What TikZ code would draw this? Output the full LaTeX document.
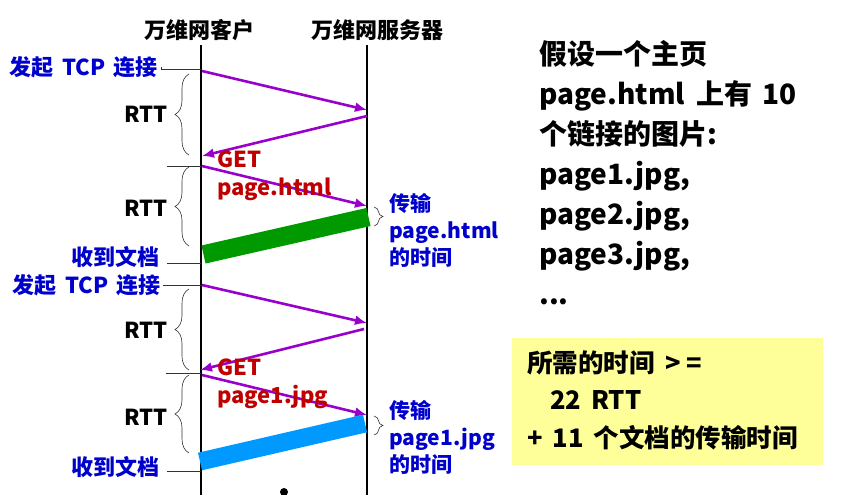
\documentclass[tikz,border=0pt]{standalone}
\usepackage{fontspec}
\setmainfont{Noto Sans CJK SC}[WordSpace=1.7]
\usetikzlibrary{arrows.meta,decorations.pathreplacing}
\definecolor{msgpurple}{HTML}{9900CC}
\definecolor{lblblue}{HTML}{0000CC}
\definecolor{reqred}{HTML}{C00000}
\definecolor{barblue}{HTML}{0099FF}
\definecolor{bargreen}{HTML}{009900}
\definecolor{notebg}{HTML}{FFFF99}
\tikzset{
  lifeline/.style={line width=1.8pt,black},
  msg/.style={line width=2.6pt,msgpurple,-{Latex[length=12pt,width=10pt]}},
  leader/.style={line width=0.8pt,black!80},
  rttbrace/.style={line width=0.6pt,black!80,decorate,decoration={brace,amplitude=14pt}},
  xferbrace/.style={line width=0.6pt,black!80,decorate,decoration={brace,amplitude=9pt}},
  head/.style={font=\fontsize{22}{26}\selectfont\bfseries,inner sep=0pt},
  evlabel/.style={font=\fontsize{22}{26}\selectfont\bfseries,text=lblblue,inner sep=0pt,anchor=east},
  rttlabel/.style={font=\fontsize{22}{26}\selectfont\bfseries,inner sep=0pt,anchor=east},
  reqlabel/.style={font=\fontsize{22}{28}\selectfont\bfseries,text=reqred,inner sep=0pt,anchor=west,align=left},
  xferlabel/.style={font=\fontsize{21}{27}\selectfont\bfseries,text=lblblue,inner sep=0pt,anchor=west,align=left},
}
\begin{document}
\begin{tikzpicture}[x=1pt,y=-1pt]
\useasboundingbox (0,0) rectangle (847,495);

% column headings and lifelines
\node[head] (client) at (199,30) {万维网客户};
\node[head] (server) at (377,30) {万维网服务器};
\coordinate (ctop) at (201,45);
\coordinate (cbot) at (201,495);
\coordinate (stop) at (367,45);
\coordinate (sbot) at (367,495);
\draw[lifeline] (ctop) -- (cbot);
\draw[lifeline] (stop) -- (sbot);

% first page: TCP handshake and request for page.html
\coordinate (c1) at (202,71);  \coordinate (s1) at (367,110);
\coordinate (s2) at (367,116); \coordinate (c2) at (202,156);
\coordinate (c3) at (202,166); \coordinate (s3) at (367,206);
\draw[msg] (c1) -- (s1);
\draw[msg] (s2) -- (c2);
\draw[msg] (c3) -- (s3);
\coordinate (g1a) at (203.5,254.5); \coordinate (g1b) at (368.5,217);
\draw[bargreen,line width=18.5pt] (g1a) -- (g1b);

\node[evlabel] (tcp1) at (158,67) {发起 TCP 连接};
\coordinate (tcp1end) at (201,69);
\draw[leader] (tcp1.east) ++(3,0) |- (tcp1end);
\coordinate (get1end) at (201,166);
\coordinate (get1start) at (167,166);
\draw[leader] (get1start) -- (get1end);
\node[evlabel] (recv1) at (160,257) {收到文档};
\coordinate (recv1end) at (201,263);
\coordinate (recv1start) at (167,263);
\draw[leader] (recv1start) -- (recv1end);

\coordinate (b1top) at (189,74);  \coordinate (b1bot) at (189,155);
\draw[rttbrace] (b1bot) -- (b1top);
\node[rttlabel] (rtt1) at (168,114) {RTT};
\coordinate (b2top) at (189,167); \coordinate (b2bot) at (189,246);
\draw[rttbrace] (b2bot) -- (b2top);
\node[rttlabel] (rtt2) at (168,208) {RTT};

\node[reqlabel] (req1) at (217,176) {GET\\page.html};
\coordinate (x1top) at (374,207); \coordinate (x1bot) at (374,226);
\draw[xferbrace] (x1top) -- (x1bot);
\node[xferlabel] (xfer1) at (389,230) {传输\\page.html\\的时间};

% second object: new connection and request for page1.jpg
\coordinate (c4) at (202,285); \coordinate (s4) at (367,323);
\coordinate (s5) at (364,329); \coordinate (c5) at (200,370);
\coordinate (c6) at (202,375); \coordinate (s6) at (367,415);
\draw[msg] (c4) -- (s4);
\draw[msg] (s5) -- (c5);
\draw[msg] (c6) -- (s6);
\coordinate (g2a) at (200,461.5); \coordinate (g2b) at (365,423.5);
\draw[barblue,line width=18pt] (g2a) -- (g2b);

\node[evlabel] (tcp2) at (161,285) {发起 TCP 连接};
\coordinate (tcp2end) at (201,285);
\draw[leader] (tcp2.east) ++(2,0) -- (tcp2end);
\coordinate (get2start) at (166,373); \coordinate (get2end) at (201,373);
\draw[leader] (get2start) -- (get2end);
\node[evlabel] (recv2) at (160,467) {收到文档};
\coordinate (recv2start) at (167,471); \coordinate (recv2end) at (201,471);
\draw[leader] (recv2start) -- (recv2end);

\coordinate (b3top) at (189,289); \coordinate (b3bot) at (189,370);
\draw[rttbrace] (b3bot) -- (b3top);
\node[rttlabel] (rtt3) at (168,330) {RTT};
\coordinate (b4top) at (189,375); \coordinate (b4bot) at (189,453);
\draw[rttbrace] (b4bot) -- (b4top);
\node[rttlabel] (rtt4) at (168,417) {RTT};

\node[reqlabel] (req2) at (217,384) {GET\\page1.jpg};
\coordinate (x2top) at (374,416); \coordinate (x2bot) at (374,435);
\draw[xferbrace] (x2top) -- (x2bot);
\node[xferlabel] (xfer2) at (389,437) {传输\\page1.jpg\\的时间};

% continuation mark
\fill (284,492) circle (4);

% problem statement
\node[font=\fontsize{28}{40}\selectfont\bfseries,anchor=west,align=left,inner sep=0pt]
  (stmt) at (539,173) {假设一个主页\\page.html 上有 10\\个链接的图片:\\page1.jpg,\\page2.jpg,\\page3.jpg,\\...};

% result note
\node[fill=notebg,minimum width=311,minimum height=127,anchor=north west,inner sep=0pt] (note) at (512,338) {};
\node[font=\fontsize{25.5}{37.5}\selectfont\bfseries,anchor=west,align=left,inner sep=0pt]
  (result) at (527,400) {所需的时间\hspace{11pt}>\hspace{5pt}=\\\hspace*{23pt}22 RTT\\+ 11 个文档的传输时间};
\end{tikzpicture}
\end{document}
